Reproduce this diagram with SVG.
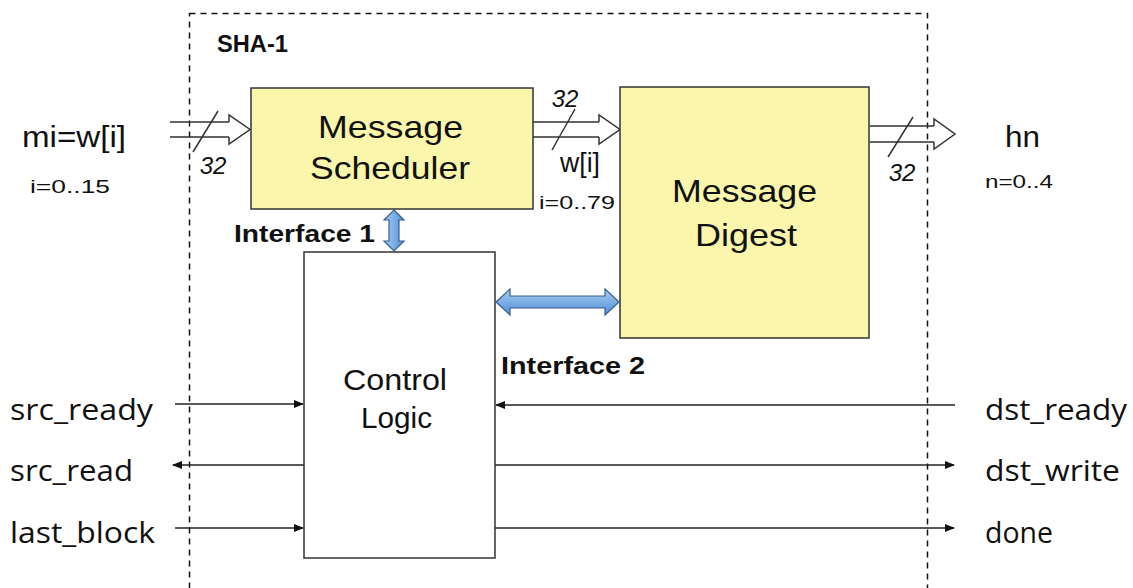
<svg xmlns="http://www.w3.org/2000/svg" width="1133" height="588" viewBox="0 0 1133 588">
<defs>
<linearGradient id="blueV" x1="0" y1="0" x2="1" y2="0"><stop offset="0" stop-color="#a9cdf2"/><stop offset="1" stop-color="#4f8fd6"/></linearGradient>
<linearGradient id="blueH" x1="0" y1="0" x2="0" y2="1"><stop offset="0" stop-color="#a9cdf2"/><stop offset="1" stop-color="#4f8fd6"/></linearGradient>
<marker id="ah" markerWidth="10" markerHeight="8" refX="9" refY="4" orient="auto" markerUnits="userSpaceOnUse"><path d="M0,0 L10,4 L0,8 Z" fill="#111"/></marker>
</defs>
<style>
.blk{fill:#faf7ac;stroke:#333;stroke-width:1.5}
.t{font-family:"Liberation Sans",Arial,sans-serif;fill:#111}
.sig{font-family:"Open Sans","Liberation Sans",sans-serif;font-size:30px;fill:#111}
.w{stroke:#333;stroke-width:1.5;fill:none}
</style>
<rect x="189.5" y="13.5" width="738" height="600" fill="none" stroke="#111" stroke-width="1.5" stroke-dasharray="6,5"/>
<text class="t" x="217" y="52" font-size="23" font-weight="bold" textLength="71" lengthAdjust="spacingAndGlyphs">SHA-1</text>

<g id="connectors">
<path class="w" d="M170,122 H229 M170,137 H229"/>
<path class="w" d="M229,122 V115 L250,129.5 L229,144 V137"/>
<line class="w" x1="193" y1="152" x2="218" y2="111"/>
<path class="w" d="M533,122 H599 M533,137 H599"/>
<path class="w" d="M599,122 V115 L620,129.5 L599,144 V137"/>
<line class="w" x1="552" y1="150" x2="575" y2="109"/>
<path class="w" d="M870,126 H934 M870,142 H934"/>
<path class="w" d="M934,126 V119 L955,134 L934,149 V142"/>
<line class="w" x1="888" y1="157" x2="913" y2="117"/>
<path fill="url(#blueV)" stroke="#3a5f8a" stroke-width="1.2" d="M394,210 L404,220 L399,220 L399,241 L404,241 L394,251 L384,241 L389,241 L389,220 L384,220 Z"/>
<path fill="url(#blueH)" stroke="#3a5f8a" stroke-width="1.2" d="M496,302 L510,289 L510,296 L605,296 L605,289 L619,302 L605,315 L605,308 L510,308 L510,315 Z"/>
<g stroke="#222" stroke-width="1.5" fill="none">
<line x1="175" y1="404" x2="303" y2="404" marker-end="url(#ah)"/>
<line x1="304" y1="465" x2="173" y2="465" marker-end="url(#ah)"/>
<line x1="175" y1="528" x2="303" y2="528" marker-end="url(#ah)"/>
<line x1="955" y1="405" x2="496" y2="405" marker-end="url(#ah)"/>
<line x1="495" y1="465" x2="954" y2="465" marker-end="url(#ah)"/>
<line x1="495" y1="528" x2="954" y2="528" marker-end="url(#ah)"/>
</g>
</g>

<g id="scheduler">
<rect class="blk" x="251" y="88" width="282" height="121"/>
<text class="t" x="318" y="138" font-size="32" textLength="145" lengthAdjust="spacingAndGlyphs">Message</text>
<text class="t" x="310" y="179" font-size="32" textLength="160" lengthAdjust="spacingAndGlyphs">Scheduler</text>
</g>
<g id="digest">
<rect class="blk" x="620" y="87" width="249" height="251"/>
<text class="t" x="672" y="202" font-size="32" textLength="145" lengthAdjust="spacingAndGlyphs">Message</text>
<text class="t" x="695" y="246" font-size="32" textLength="102" lengthAdjust="spacingAndGlyphs">Digest</text>
</g>
<g id="control">
<rect x="304" y="252" width="191" height="306" fill="#fff" stroke="#333" stroke-width="1.5"/>
<text class="t" x="343" y="390" font-size="29" textLength="104" lengthAdjust="spacingAndGlyphs">Control</text>
<text class="t" x="361" y="428" font-size="29" textLength="71" lengthAdjust="spacingAndGlyphs">Logic</text>
</g>

<g id="labels">
<text class="t" x="22" y="147" font-size="30" textLength="104" lengthAdjust="spacingAndGlyphs">mi=w[i]</text>
<text class="t" x="30" y="193" font-size="18" textLength="80" lengthAdjust="spacingAndGlyphs">i=0..15</text>
<text class="t" x="213" y="174" font-size="24" font-style="italic" text-anchor="middle">32</text>
<text class="t" x="565" y="107" font-size="24" font-style="italic" text-anchor="middle">32</text>
<text class="t" x="560" y="172" font-size="27" textLength="40" lengthAdjust="spacingAndGlyphs">w[i]</text>
<text class="t" x="539" y="209" font-size="19" textLength="76" lengthAdjust="spacingAndGlyphs">i=0..79</text>
<text class="t" x="902" y="181" font-size="24" font-style="italic" text-anchor="middle">32</text>
<text class="t" x="1005" y="147" font-size="30" textLength="35" lengthAdjust="spacingAndGlyphs">hn</text>
<text class="t" x="985" y="188" font-size="18" textLength="68" lengthAdjust="spacingAndGlyphs">n=0..4</text>
<text class="t" x="234" y="242" font-size="23" font-weight="bold" textLength="141" lengthAdjust="spacingAndGlyphs">Interface 1</text>
<text class="t" x="501" y="374" font-size="23" font-weight="bold" textLength="144" lengthAdjust="spacingAndGlyphs">Interface 2</text>
<text class="sig" x="10" y="420" textLength="143" lengthAdjust="spacingAndGlyphs">src_ready</text>
<text class="sig" x="10" y="481" textLength="123" lengthAdjust="spacingAndGlyphs">src_read</text>
<text class="sig" x="10" y="543" textLength="145" lengthAdjust="spacingAndGlyphs">last_block</text>
<text class="sig" x="985" y="420" textLength="142" lengthAdjust="spacingAndGlyphs">dst_ready</text>
<text class="sig" x="985" y="481" textLength="135" lengthAdjust="spacingAndGlyphs">dst_write</text>
<text class="sig" x="985" y="543" textLength="68" lengthAdjust="spacingAndGlyphs">done</text>
</g>
</svg>
